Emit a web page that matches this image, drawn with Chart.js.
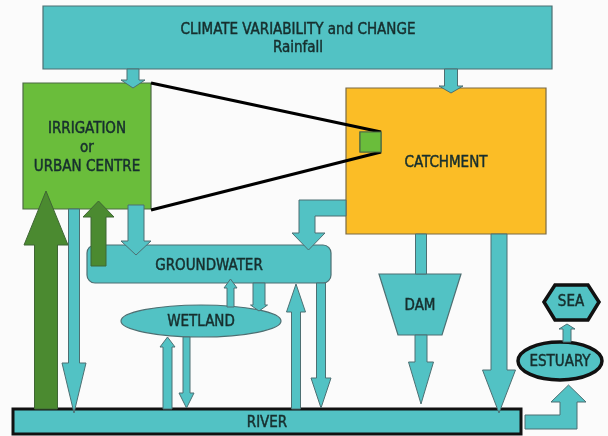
<!DOCTYPE html>
<html>
<head>
<meta charset="utf-8">
<script src="https://cdn.jsdelivr.net/npm/chart.js@4"></script>
<style>
  body { margin: 0; background: #fbfbfb; }
  #wrap { width: 608px; height: 436px; }
</style>
</head>
<body>
<div id="wrap"><canvas id="diagrama" width="608" height="436"></canvas></div>
<script>
// diagram drawn in picture units: x 0..608, y 0..436 (y grows downward)
const boxNames = ["climate", "irrigation", "catchment", "seedSquare", "river"];
const boxRects = [[43, 6, 509, 63], [23, 83, 128, 126], [346, 88, 200, 146], [360, 132, 21, 20], [13, 409, 508, 25]];
const boxTexts = [["CLIMATE VARIABILITY and CHANGE", "Rainfall"], ["IRRIGATION", "or", "URBAN CENTRE"], ["CATCHMENT"], [], ["RIVER"]];
const boxTextAt = [[298, 30, 18], [87, 129, 19], [446, 163, 0], [0, 0, 0], [267, 423, 0]];

const ovalNames = ["wetland", "estuary"];
const ovalShapes = [[201, 321, 80, 16], [560, 361, 42, 19]];
const ovalTexts = ["WETLAND", "ESTUARY"];

const gwRect = [87, 245, 244, 38];
const gwText = ["GROUNDWATER", 209, 266];

const damShape = [[379, 274], [461, 274], [442, 335], [398, 335]];
const damText = ["DAM", 420, 306];
const seaShape = [[544, 302], [555, 285], [588, 285], [599, 302], [588, 320], [555, 320]];
const seaText = ["SEA", 571, 302];

// links to the urban / catchment zoom
const zoomLines = [[[151, 83], [381, 132]], [[151, 210], [381, 152]]];

// vertical arrows: centre x, tail y, tip y, shaft width, head width, head length
const arrowNames = ["rain-irr", "rain-catch", "irr-river", "river-irr", "gw-irr", "irr-gw",
  "wet-gw", "gw-wet", "river-wet", "wet-river", "river-gw", "gw-river",
  "catch-dam", "dam-river", "catch-river", "est-sea"];
const arrowGeom = [
  [133, 69, 88, 12, 24, 8], [451, 69, 93, 13, 24, 7], [74, 209, 413, 11, 24, 50],
  [46, 409, 191, 23, 44, 54], [98.5, 266, 201, 15, 31, 16], [136, 205, 255, 16, 30, 14],
  [230.5, 307, 279, 7, 13, 9], [259, 283, 311, 12, 17, 6], [167.5, 409, 337, 9, 15, 10],
  [186.5, 337, 408, 7, 15, 15], [296, 409, 284, 9, 19, 28], [321, 283, 408, 9, 20, 30],
  [421, 234, 274, 11, 0, 0], [421, 335, 404, 12, 25, 42], [499, 234, 413, 16, 33, 43],
  [567, 342, 324, 8, 16, 5]
];
const arrowKind = ["flow", "flow", "flow", "use", "use", "flow", "flow", "flow",
  "flow", "flow", "flow", "flow", "flow", "flow", "flow", "flow"];

// bent arrows as outlines
const bentArrows = [
  [[346, 200], [299, 200], [299, 233], [292, 233], [308.5, 250], [325, 233], [315, 233], [315, 216], [346, 216]],
  [[525, 415], [560, 415], [560, 402], [551, 402], [568.5, 385], [586, 402], [577, 402], [577, 429], [525, 429]]
];

const look = {
  climate: { fill: "#52c2c4", line: "#4d6f72", w: 1.2 },
  irrigation: { fill: "#6abd3b", line: "#4d6a45", w: 1.2 },
  catchment: { fill: "#fbbd26", line: "#7a6a45", w: 1.2 },
  seedSquare: { fill: "#6abd3b", line: "#4d6a45", w: 1.2 },
  river: { fill: "#52c2c4", line: "#111111", w: 3 },
  wetland: { fill: "#52c2c4", line: "#4d6f72", w: 1.2 },
  estuary: { fill: "#52c2c4", line: "#111111", w: 3.5 },
  cyan: { fill: "#52c2c4", line: "#4d6f72", w: 1.2 },
  sea: { fill: "#52c2c4", line: "#111111", w: 3.5 },
  flow: { fill: "#52c2c4", line: "#4d6f72", w: 1 },
  use: { fill: "#4b8a30", line: "#3f6634", w: 1 }
};
const fonte = '15px "DejaVu Sans Condensed", "DejaVu Sans", sans-serif';
const corTexto = "#172f2e";

const desenho = {
  id: "desenho",
  afterDatasetsDraw(chart) {
    const ctx = chart.ctx;
    const sx = chart.scales.x, sy = chart.scales.y;
    const px = v => sx.getPixelForValue(v);
    const py = v => sy.getPixelForValue(v);

    function paint(st) {
      ctx.fillStyle = st.fill; ctx.fill();
      ctx.lineWidth = st.w; ctx.strokeStyle = st.line; ctx.stroke();
    }
    function poly(pts, st) {
      ctx.beginPath();
      pts.forEach((p, i) => i ? ctx.lineTo(px(p[0]), py(p[1])) : ctx.moveTo(px(p[0]), py(p[1])));
      ctx.closePath();
      paint(st);
    }
    function rect(r, st) {
      ctx.beginPath();
      ctx.rect(px(r[0]), py(r[1]), px(r[0] + r[2]) - px(r[0]), py(r[1] + r[3]) - py(r[1]));
      paint(st);
    }
    function text(s, x, y) {
      ctx.fillStyle = corTexto; ctx.font = fonte;
      ctx.textAlign = "center"; ctx.textBaseline = "middle";
      ctx.fillText(s, px(x), py(y));
      ctx.lineWidth = 0.45; ctx.strokeStyle = corTexto;
      ctx.strokeText(s, px(x), py(y));
    }
    function arrow(g, st) {
      const [cx, t, tip, sw, hw, hl] = g;
      const dir = tip > t ? 1 : -1;
      const base = tip - dir * hl;
      let pts;
      if (hw === 0) {
        pts = [[cx - sw / 2, t], [cx + sw / 2, t], [cx + sw / 2, tip], [cx - sw / 2, tip]];
      } else {
        pts = [[cx - sw / 2, t], [cx - sw / 2, base], [cx - hw / 2, base], [cx, tip],
          [cx + hw / 2, base], [cx + sw / 2, base], [cx + sw / 2, t]];
      }
      poly(pts, st);
    }

    ctx.save();
    // boxes
    boxNames.forEach((n, i) => {
      rect(boxRects[i], look[n]);
      boxTexts[i].forEach((s, k) => text(s, boxTextAt[i][0], boxTextAt[i][1] + k * boxTextAt[i][2]));
    });
    // groundwater, rounded
    ctx.beginPath();
    ctx.roundRect(px(gwRect[0]), py(gwRect[1]), px(gwRect[0] + gwRect[2]) - px(gwRect[0]), py(gwRect[1] + gwRect[3]) - py(gwRect[1]), 8);
    paint(look.cyan);
    text(gwText[0], gwText[1], gwText[2]);
    // ovals
    ovalNames.forEach((n, i) => {
      const o = ovalShapes[i];
      ctx.beginPath();
      ctx.ellipse(px(o[0]), py(o[1]), px(o[0] + o[2]) - px(o[0]), py(o[1] + o[3]) - py(o[1]), 0, 0, Math.PI * 2);
      paint(look[n]);
      text(ovalTexts[i], o[0], o[1] + 1);
    });
    poly(damShape, look.cyan); text(damText[0], damText[1], damText[2]);
    poly(seaShape, look.sea); text(seaText[0], seaText[1], seaText[2]);
    // zoom lines
    ctx.strokeStyle = "#000"; ctx.lineWidth = 3.2;
    zoomLines.forEach(l => {
      ctx.beginPath(); ctx.moveTo(px(l[0][0]), py(l[0][1])); ctx.lineTo(px(l[1][0]), py(l[1][1])); ctx.stroke();
    });
    rect(boxRects[3], look.seedSquare);
    // arrows
    arrowGeom.forEach((g, i) => arrow(g, look[arrowKind[i]]));
    bentArrows.forEach(b => poly(b, look.flow));
    ctx.restore();
  }
};

new Chart(document.getElementById("diagrama"), {
  type: "scatter",
  data: {
    datasets: [{
      data: boxTextAt.map(p => ({ x: p[0], y: p[1] })),
      pointRadius: 0
    }]
  },
  options: {
    responsive: false,
    devicePixelRatio: 1,
    animation: false,
    layout: { padding: 0 },
    plugins: { legend: { display: false }, tooltip: { enabled: false } },
    scales: {
      x: { type: "linear", min: 0, max: 608, display: false },
      y: { type: "linear", min: 0, max: 436, reverse: true, display: false }
    }
  },
  plugins: [desenho]
});
</script>
</body>
</html>
